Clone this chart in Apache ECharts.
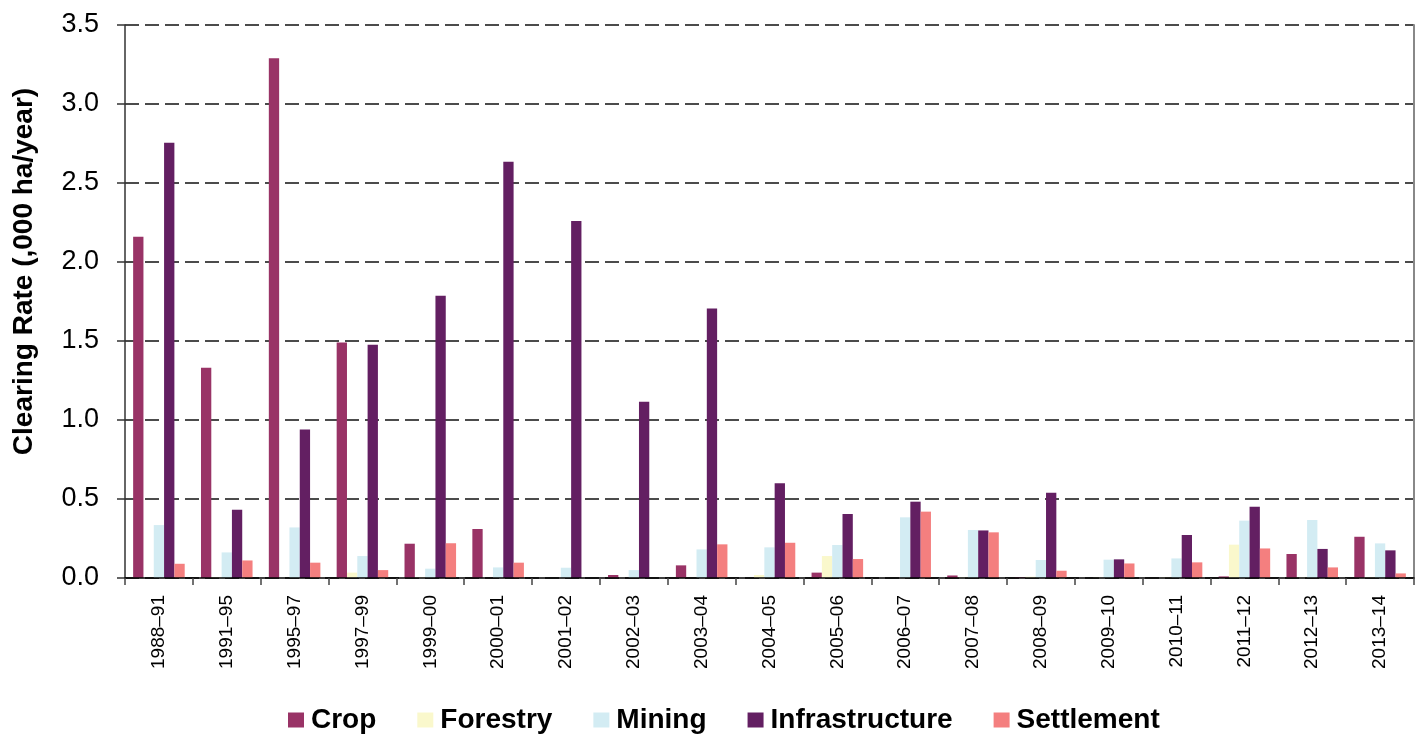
<!DOCTYPE html>
<html>
<head>
<meta charset="utf-8">
<script src="https://cdn.jsdelivr.net/npm/echarts@6/dist/echarts.min.js"></script>
<style>html,body{margin:0;padding:0;background:#fff;}#c{width:1422px;height:736px;}</style>
</head>
<body>
<div id="c"></div>
<script>
var categories = ['1988–91','1991–95','1995–97','1997–99','1999–00','2000–01','2001–02','2002–03','2003–04','2004–05','2005–06','2006–07','2007–08','2008–09','2009–10','2010–11','2011–12','2012–13','2013–14'];
var crop =           [2.16, 1.33, 3.29, 1.49, 0.217, 0.31, 0, 0.019, 0.08, 0, 0.034, 0, 0.016, 0.005, 0, 0, 0.01, 0.152, 0.261];
var forestry =       [0, 0.004, 0, 0.034, 0.004, 0, 0, 0, 0, 0.019, 0.139, 0, 0.003, 0.008, 0.002, 0.003, 0.211, 0.002, 0.004];
var mining =         [0.335, 0.162, 0.32, 0.139, 0.059, 0.067, 0.065, 0.05, 0.181, 0.194, 0.209, 0.384, 0.304, 0.114, 0.116, 0.124, 0.363, 0.367, 0.219];
var infrastructure = [2.755, 0.432, 0.94, 1.477, 1.787, 2.635, 2.26, 1.115, 1.705, 0.6, 0.405, 0.483, 0.301, 0.54, 0.118, 0.272, 0.451, 0.184, 0.175];
var settlement =     [0.09, 0.111, 0.097, 0.05, 0.22, 0.097, 0, 0, 0.213, 0.223, 0.12, 0.42, 0.289, 0.046, 0.092, 0.099, 0.187, 0.067, 0.029];
var seriesNames = ['Crop','Forestry','Mining','Infrastructure','Settlement'];
var seriesColors = ['#993366','#FAF8CC','#D3ECF3','#631F62','#F47F7F'];
var seriesData = [crop, forestry, mining, infrastructure, settlement];

var chart = echarts.init(document.getElementById('c'), null, {renderer:'canvas'});
var FF = 'Liberation Sans, Arial, sans-serif';
var option = {
  animation: false,
  backgroundColor: '#fff',
  textStyle: { fontFamily: FF },
  grid: { left: 125, right: 8, top: 25, bottom: 158, containLabel: false, outerBoundsMode: 'none' },
  legend: {
    top: 701, left: 283,
    itemWidth: 16, itemHeight: 15, itemGap: 41,
    icon: 'rect',
    textStyle: { fontSize: 28, fontWeight: 'bold', color: '#000', fontFamily: FF, padding: [0,0,0,2] },
    data: seriesNames
  },
  xAxis: {
    type: 'category',
    data: categories,
    z: 10,
    axisLine: { lineStyle: { color: '#000', width: 1.5 } },
    axisTick: { show: true, alignWithLabel: false, length: 7, lineStyle: { color: '#444', width: 1.5 } },
    axisLabel: { rotate: 90, fontSize: 19, color: '#000', margin: 17, interval: 0, fontFamily: FF }
  },
  yAxis: [{
    type: 'value', min: 0, max: 3.5, interval: 0.5,
    name: 'Clearing Rate (,000 ha/year)',
    nameLocation: 'middle', nameGap: 87, nameRotate: 90,
    nameTextStyle: { fontSize: 28, fontWeight: 'bold', color: '#000', fontFamily: FF, padding: [0,0,0,60] },
    axisLine: { show: true, lineStyle: { color: '#333', width: 1.5 } },
    axisTick: { show: true, length: 8, lineStyle: { color: '#333', width: 1.5 } },
    axisLabel: { fontSize: 27, color: '#000', margin: 26, fontFamily: FF, formatter: function(v){ return v.toFixed(1); } },
    splitLine: { show: true, lineStyle: { color: '#111', width: 1.5, type: [14, 6] } }
  }, {
    type: 'value', min: 0, max: 3.5, interval: 0.5, position: 'right',
    axisLine: { show: true, lineStyle: { color: '#888', width: 2 } },
    axisTick: { show: false }, axisLabel: { show: false }, splitLine: { show: false }
  }],
  series: seriesNames.map(function(n, i){
    return {
      name: n, type: 'bar', data: seriesData[i],
      barGap: '0%', barCategoryGap: '24%',
      itemStyle: { color: seriesColors[i] }
    };
  })
};
chart.setOption(option);
</script>
</body>
</html>
